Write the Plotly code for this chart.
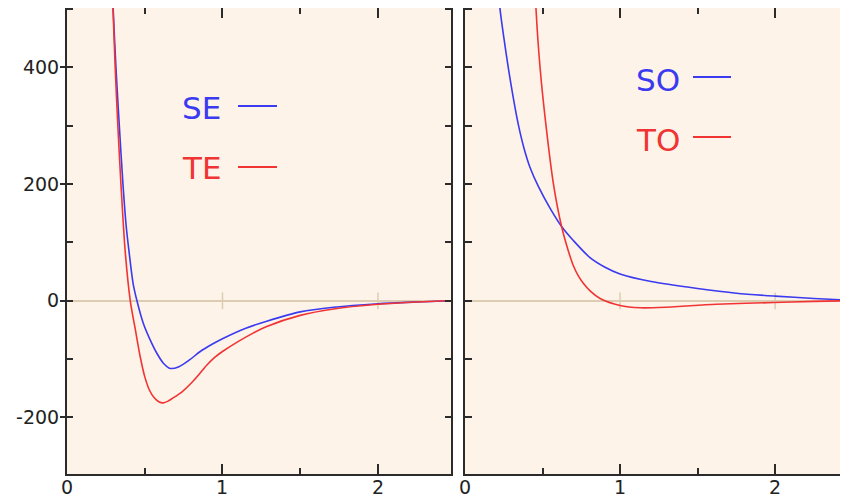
import plotly.graph_objects as go

# ---- data ----
SE_x = [0.292, 0.297, 0.315, 0.332, 0.36, 0.38, 0.40, 0.425, 0.45, 0.49, 0.535, 0.578, 0.62, 0.664, 0.72, 0.79, 0.857, 0.93, 1.0, 1.15, 1.285, 1.5, 1.715, 2.0, 2.25, 2.47]
SE_y = [540, 500, 400, 320, 200, 130, 82, 30, 0, -38, -67, -90, -107, -116, -113, -101, -87, -75, -65, -47, -35, -19, -11, -5, -2, 0]

TE_x = [0.29, 0.296, 0.31, 0.327, 0.347, 0.374, 0.407, 0.44, 0.471, 0.5, 0.53, 0.56, 0.59, 0.62, 0.65, 0.68, 0.74, 0.8, 0.85, 0.9, 0.95, 1.0, 1.1, 1.2, 1.285, 1.5, 1.715, 2.0, 2.25, 2.47]
TE_y = [540, 500, 400, 300, 200, 86, 0, -50, -96, -130, -153, -166, -173, -175, -172, -167, -156, -141, -126, -110, -97, -87, -70, -55, -44, -25, -14, -6, -2, 0]

SO_x = [0.215, 0.226, 0.25, 0.28, 0.31, 0.344, 0.38, 0.42, 0.473, 0.55, 0.624, 0.7, 0.806, 0.9, 1.0, 1.2, 1.5, 1.75, 2.0, 2.25, 2.47]
SO_y = [540, 500, 452, 398, 350, 302, 262, 228, 196, 158, 127, 103, 74, 58, 46, 33, 21, 13, 8, 4, 1]

TO_x = [0.452, 0.458, 0.484, 0.523, 0.57, 0.624, 0.667, 0.699, 0.73, 0.763, 0.81, 0.871, 1.0, 1.13, 1.3, 1.42, 1.62, 1.99, 2.25, 2.47]
TO_y = [540, 500, 400, 299, 201, 126, 85, 60, 43, 30, 16, 4, -8, -12, -11, -9, -6, -3, -1, 0]

zero_ticks = [1, 2]
x_range = [0, 2.47]
y_range = [-297, 502]
x_tickvals = [0, 1, 2]
x_ticktext = ["0", "1", "2"]
y_tickvals = [-200, 0, 200, 400]
y_ticktext = ["-200", "0", "200", "400"]
legend_left = ["SE", "TE"]
legend_right = ["SO", "TO"]

BLUE = "#3a3af0"
RED = "#f03434"
TAN = "#dccdb2"
BG = "#fef3e8"
AX = "#2b2b2b"
TXT = "#222"

OFF = 8  # page (body) offset of the figure in the browser
W, H = 848 - OFF, 499 - OFF
ML, MR, MT, MB = 67 - OFF, 0, 0, 499 - 474
PW = W - ML - MR
PH = H - MT - MB

def px_x(p):  # screen pixel -> paper fraction
    return (p - OFF - ML) / PW

def px_y(p):
    return (H - MB - (p - OFF)) / PH

fig = go.Figure()

# zero-line tick marks
for xa, ya in (("x", "y"), ("x2", "y2")):
    fig.add_trace(go.Scatter(x=zero_ticks, y=[0] * len(zero_ticks), mode="markers",
                             marker=dict(symbol="line-ns", size=12, line=dict(color=TAN, width=1.5)),
                             xaxis=xa, yaxis=ya, hoverinfo="skip", showlegend=False))

def curve(x, y, color, xa, ya):
    fig.add_trace(go.Scatter(x=x, y=y, mode="lines", line=dict(color=color, width=1.6, shape="spline", smoothing=0.8),
                             xaxis=xa, yaxis=ya, hoverinfo="skip", showlegend=False))

curve(SE_x, SE_y, BLUE, "x", "y")
curve(TE_x, TE_y, RED, "x", "y")
curve(SO_x, SO_y, BLUE, "x2", "y2")
curve(TO_x, TO_y, RED, "x2", "y2")

dom1 = [0, px_x(451)]
dom2 = [px_x(465), 1.0]

xcommon = dict(range=x_range, showgrid=False, zeroline=False, showline=True, linecolor=AX, linewidth=2,
               mirror="ticks", ticks="inside", ticklen=10, tickwidth=1.5, tickcolor=AX, dtick=1, tick0=0,
               minor=dict(ticks="inside", ticklen=6, dtick=0.5, tickwidth=1.5, tickcolor=AX, showgrid=False),
               showticklabels=False, automargin=False)

fig.update_layout(
    width=W, height=H,
    margin=dict(l=ML, r=MR, t=MT, b=MB, pad=0, autoexpand=False),
    paper_bgcolor="white", plot_bgcolor=BG,
    showlegend=False,
    xaxis=dict(domain=dom1, anchor="y", **xcommon),
    xaxis2=dict(domain=dom2, anchor="y2", **xcommon),
    yaxis=dict(domain=[0, 1], anchor="x", range=y_range, showgrid=False, zeroline=True, zerolinecolor=TAN,
               zerolinewidth=2, showline=True, linecolor=AX, linewidth=2, mirror=True,
               ticks="", ticklabelstandoff=2,
               tickmode="array", tickvals=y_tickvals, ticktext=y_ticktext,
               tickfont=dict(family="DejaVu Sans", size=19, color=TXT), automargin=False),
    yaxis3=dict(overlaying="y", anchor="x", range=y_range, showgrid=False, zeroline=False, showline=False,
                showticklabels=False, ticks="outside", ticklen=6, tickwidth=1.5, tickcolor=AX, dtick=200, tick0=0,
                automargin=False),
    yaxis4=dict(overlaying="y", anchor="x", range=y_range, showgrid=False, zeroline=False, showline=False,
                showticklabels=False, ticks="inside", ticklen=6, tickwidth=1.5, tickcolor=AX, dtick=100, tick0=0,
                mirror="ticks", automargin=False),
    yaxis2=dict(domain=[0, 1], anchor="x2", range=y_range, showgrid=False, zeroline=True, zerolinecolor=TAN,
                zerolinewidth=2, showline=True, linecolor=AX, linewidth=2, mirror="ticks",
                showticklabels=False, ticks="inside", ticklen=7, tickwidth=1.5, tickcolor=AX, dtick=100, tick0=0,
                automargin=False),
)

# invisible traces so that the overlay axes are drawn
for ya in ("y3", "y4"):
    fig.add_trace(go.Scatter(x=[0], y=[0], xaxis="x", yaxis=ya, mode="markers", marker=dict(opacity=0),
                             hoverinfo="skip", showlegend=False))

# x tick labels (placed as text under each panel's axis, kept inside the figure)
for xr in ("x", "x2"):
    for v, t in zip(x_tickvals, x_ticktext):
        fig.add_annotation(text=t, xref=xr, yref="paper", x=v, y=px_y(499), xanchor="center",
                           yanchor="bottom", showarrow=False, borderpad=0,
                           font=dict(family="DejaVu Sans", size=19, color=TXT))

# legend texts + line samples
def legend_item(label, color, tx, ty, lx0, lx1, ly):
    fig.add_annotation(text=label, xref="paper", yref="paper", x=px_x(tx), y=px_y(ty),
                       xanchor="center", yanchor="middle", showarrow=False,
                       font=dict(family="DejaVu Sans", size=31, color=color))
    fig.add_shape(type="line", xref="paper", yref="paper", x0=px_x(lx0), x1=px_x(lx1),
                  y0=px_y(ly), y1=px_y(ly), line=dict(color=color, width=2))

legend_item(legend_left[0], BLUE, 201.5, 108, 238, 277, 106)
legend_item(legend_left[1], RED, 201.5, 168, 238, 277, 167)
legend_item(legend_right[0], BLUE, 657.5, 80, 693, 731, 77)
legend_item(legend_right[1], RED, 657.5, 140, 693, 731, 137)

fig.write_html("out.html")
